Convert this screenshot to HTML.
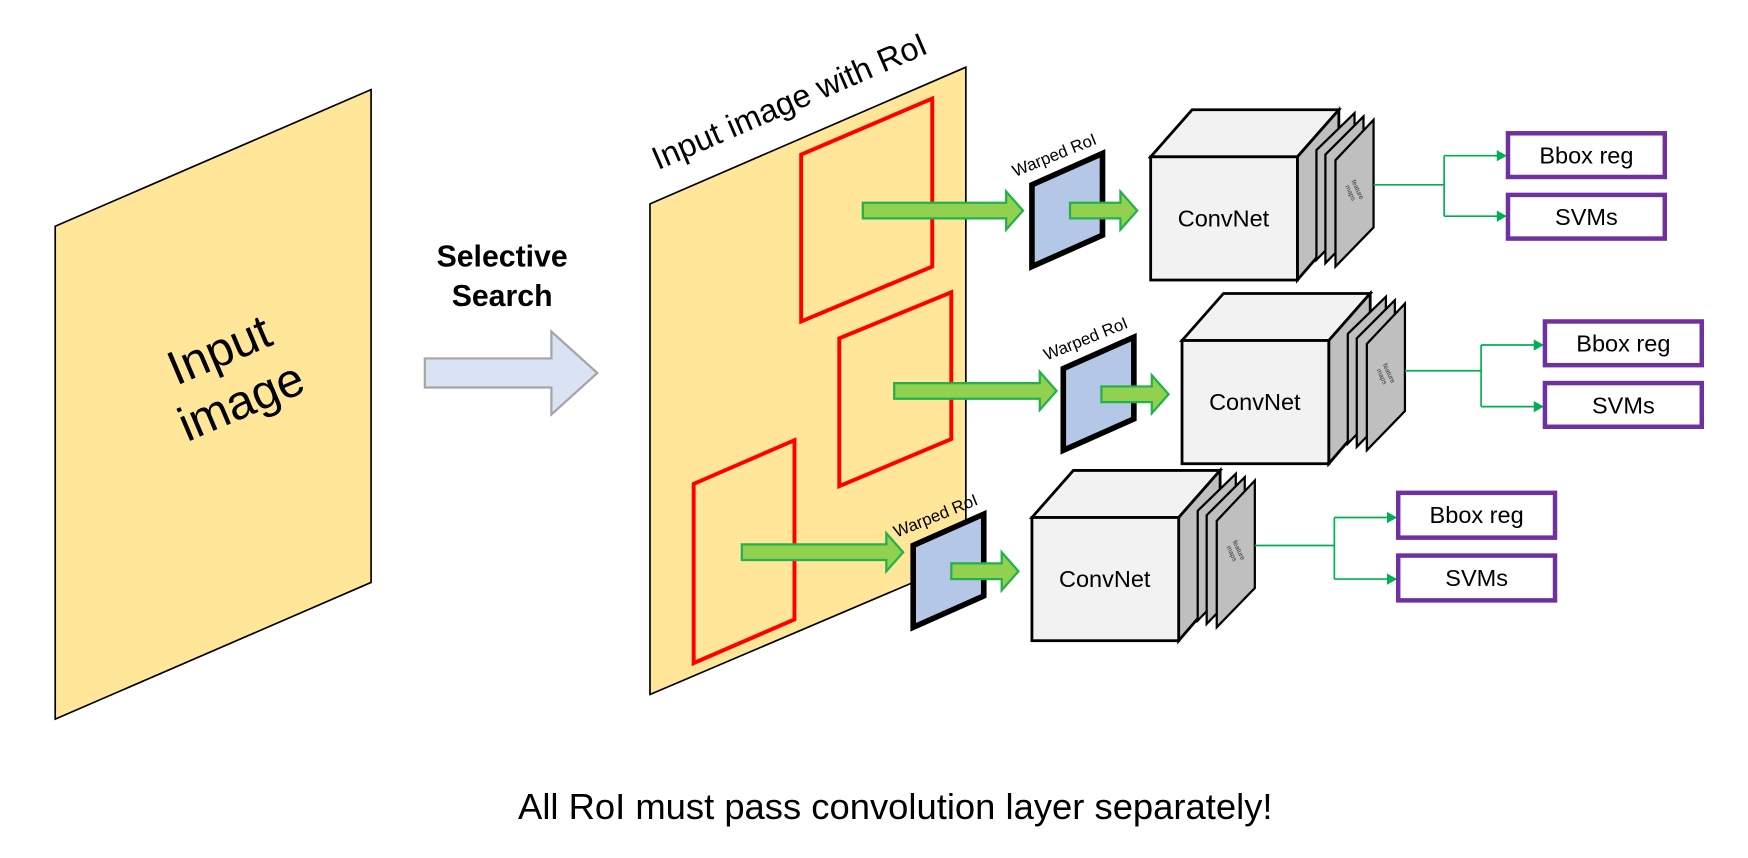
<!DOCTYPE html>
<html><head><meta charset="utf-8"><style>
html,body{margin:0;padding:0;background:#fff;}
svg{display:block;}
text{font-family:"Liberation Sans",sans-serif;}
</style></head><body>
<svg width="1748" height="858" viewBox="0 0 1560 766" xmlns="http://www.w3.org/2000/svg">
<defs>
<g id="row">
  <polygon points="921,165 984,137 984,210 921,238" fill="#B4C7E7" stroke="#000" stroke-width="5"/>
  <text x="0" y="0" font-size="15" transform="translate(906,158) rotate(-22)">Warped RoI</text>
  <g transform="translate(955,188)"><path d="M0,-7 H45 V-17 L60,0 L45,17 V7 H0 Z" fill="#92D050" stroke="#22B14C" stroke-width="2"/></g>
  <polygon points="1027,140 1064,98 1195,98 1158,140" fill="#F2F2F2" stroke="#000" stroke-width="2.5"/>
  <polygon points="1158,140 1195,98 1195,207 1158,250" fill="#BFBFBF" stroke="#000" stroke-width="2.5"/>
  <rect x="1027" y="140" width="131" height="110" fill="#F2F2F2" stroke="#000" stroke-width="2.5"/>
  <text x="1092" y="202" font-size="21" text-anchor="middle">ConvNet</text>
  <polygon points="1175,134 1209,101 1209,197 1175,232" fill="#BFBFBF" stroke="#000" stroke-width="2"/>
  <polygon points="1183,138 1217,104 1217,200 1183,235" fill="#BFBFBF" stroke="#000" stroke-width="2"/>
  <polygon points="1192,143 1226,107 1226,203 1192,238" fill="#BFBFBF" stroke="#000" stroke-width="2"/>
  <text font-size="6" fill="#333" text-anchor="middle" transform="translate(1210,170) rotate(65)"><tspan x="0" y="0">feature</tspan><tspan x="0" y="7">maps</tspan></text>
</g>
</defs>

<polygon points="49,202 331,80 331,520 49,642" fill="#FFE699" stroke="#000" stroke-width="1.5"/>
<text font-size="43" text-anchor="middle" transform="translate(205,335) rotate(-23)"><tspan x="0" y="-10">Input</tspan><tspan x="0" y="40">image</tspan></text>

<text x="448" y="238" font-size="27" font-weight="bold" text-anchor="middle">Selective</text>
<text x="448" y="273" font-size="27" font-weight="bold" text-anchor="middle">Search</text>
<path d="M379,320 H492 V296 L533,333 L492,370 V346 H379 Z" fill="#DAE3F3" stroke="#A5A5A5" stroke-width="2"/>

<polygon points="580,182 862,60 862,500 580,620" fill="#FFE699" stroke="#000" stroke-width="1.5"/>
<text x="0" y="0" font-size="29" transform="translate(587,152) rotate(-23.4)">Input image with RoI</text>

<polygon points="715,138 832,88 832,238 715,287" fill="none" stroke="#FF0000" stroke-width="3.5"/>
<polygon points="749,302 849,261 849,392 749,434" fill="none" stroke="#FF0000" stroke-width="3.5"/>
<polygon points="619,432 709,393 709,553 619,592" fill="none" stroke="#FF0000" stroke-width="3.5"/>

<path transform="translate(770,188)" d="M0,-7 H128 V-17 L143,0 L128,17 V7 H0 Z" fill="#92D050" stroke="#22B14C" stroke-width="2"/>
<path transform="translate(798,349)" d="M0,-7 H130 V-17 L145,0 L130,17 V7 H0 Z" fill="#92D050" stroke="#22B14C" stroke-width="2"/>
<path transform="translate(662,493)" d="M0,-7 H129 V-17 L144,0 L129,17 V7 H0 Z" fill="#92D050" stroke="#22B14C" stroke-width="2"/>

<use href="#row"/>
<use href="#row" transform="translate(28,164)"/>
<use href="#row" transform="translate(-106,322)"/>

<g fill="none" stroke="#00B050" stroke-width="1.5">
<path d="M1226,165 H1289 M1289,139 V193 M1289,139 H1344 M1289,193 H1344" />
<path d="M1254,331 H1322 M1322,308 V363 M1322,308 H1377 M1322,363 H1377" />
<path d="M1120,487 H1191 M1191,462 V517 M1191,462 H1246 M1191,517 H1246" />
</g>
<g fill="#00B050">
<path d="M1336,134 L1345,139 L1336,144Z"/><path d="M1336,188 L1345,193 L1336,198Z"/>
<path d="M1369,303 L1378,308 L1369,313Z"/><path d="M1369,358 L1378,363 L1369,368Z"/>
<path d="M1238,457 L1247,462 L1238,467Z"/><path d="M1238,512 L1247,517 L1238,522Z"/>
</g>

<g fill="#fff" stroke="#7030A0" stroke-width="4">
<rect x="1346" y="119" width="140" height="39"/>
<rect x="1346" y="174" width="140" height="39"/>
<rect x="1379" y="287" width="140" height="39"/>
<rect x="1379" y="342" width="140" height="39"/>
<rect x="1248" y="440" width="140" height="40"/>
<rect x="1248" y="496" width="140" height="40"/>
</g>
<g font-size="21" text-anchor="middle">
<text x="1416" y="146">Bbox reg</text>
<text x="1416" y="201">SVMs</text>
<text x="1449" y="314">Bbox reg</text>
<text x="1449" y="369">SVMs</text>
<text x="1318" y="467">Bbox reg</text>
<text x="1318" y="523">SVMs</text>
</g>

<text x="799" y="731" font-size="32.5" text-anchor="middle">All RoI must pass convolution layer separately!</text>
</svg>
</body></html>
